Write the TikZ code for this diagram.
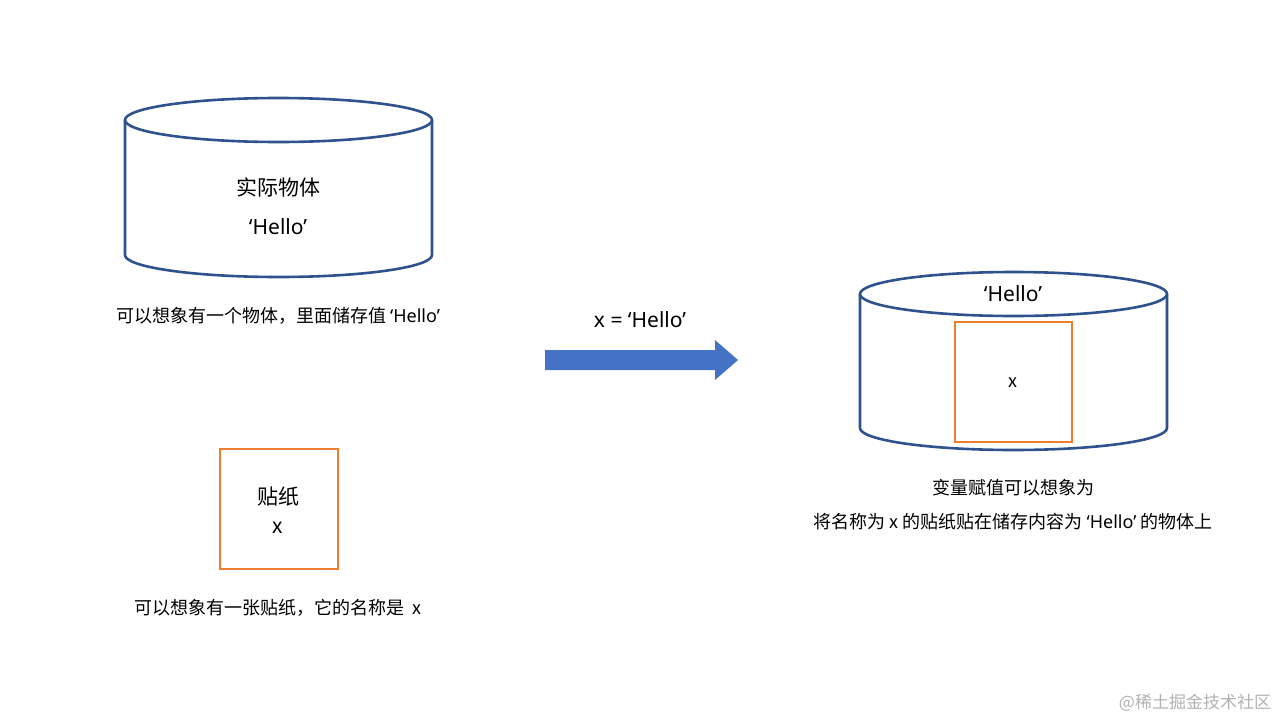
\documentclass[tikz,border=0pt]{standalone}
\usepackage{fontspec}
\setmainfont{Noto Sans CJK SC}
\newfontfamily\lat{Noto Sans}
\newcommand{\hel}{{\lat ‘Hello’}}
\begin{document}
\begin{tikzpicture}[x=1pt,y=-1pt]
\definecolor{cyl}{HTML}{2F528F}
\definecolor{arr}{HTML}{4472C4}
\definecolor{org}{HTML}{ED7D31}
\tikzset{cylline/.style={draw=cyl,line width=2.6pt},
 orgbox/.style={draw=org,line width=2.6pt,fill=white},
 lbl/.style={font=\fontsize{21}{24}\selectfont},
 captxt/.style={font=\fontsize{18}{21}\selectfont}}
\useasboundingbox (0,0) rectangle (1280,720);
% cylinder 1
\draw[cylline,fill=white] (125,120) -- (125,255) arc[start angle=180,end angle=0,x radius=153.5,y radius=22] -- (432,120);
\draw[cylline,fill=white] (278.5,120) ellipse[x radius=153.5,y radius=22];
\node[lbl] (t1) at (278,187) {实际物体};
\node[lbl] (t2) at (278,227) {\hel};
\node[captxt] (c1) at (278,316) {可以想象有一个物体，里面储存值 \hel};
% arrow
\node[lbl] (al) at (640,320) {{\lat x = ‘Hello’}};
\fill[arr] (545,350) -- (715,350) -- (715,340) -- (738,360) -- (715,380) -- (715,370) -- (545,370) -- cycle;
% cylinder 2
\draw[cylline,fill=white] (860,294) -- (860,428) arc[start angle=180,end angle=0,x radius=153.5,y radius=22] -- (1167,294);
\draw[cylline,fill=white] (1013.5,294) ellipse[x radius=153.5,y radius=22];
\node[lbl] (h2) at (1013,294) {\hel};
\draw[orgbox] (955,322) rectangle (1072,442);
\node[captxt] (x2) at (1013,383) {x};
\node[captxt] (c2) at (1013,488) {变量赋值可以想象为};
\node[captxt] (c3) at (1013,522) {将名称为 x 的贴纸贴在储存内容为 \hel\ 的物体上};
% sticker
\draw[orgbox] (220,449) rectangle (338,569);
\node[lbl] (s1) at (278,497) {贴纸};
\node[lbl] (s2) at (278,528) {x};
\node[captxt] (c4) at (278,608) {可以想象有一张贴纸，它的名称是\ \ x};
\node[captxt,font=\fontsize{17}{20}\selectfont,text=gray!60] (wm) at (1195,703) {@稀土掘金技术社区};
\end{tikzpicture}
\end{document}
